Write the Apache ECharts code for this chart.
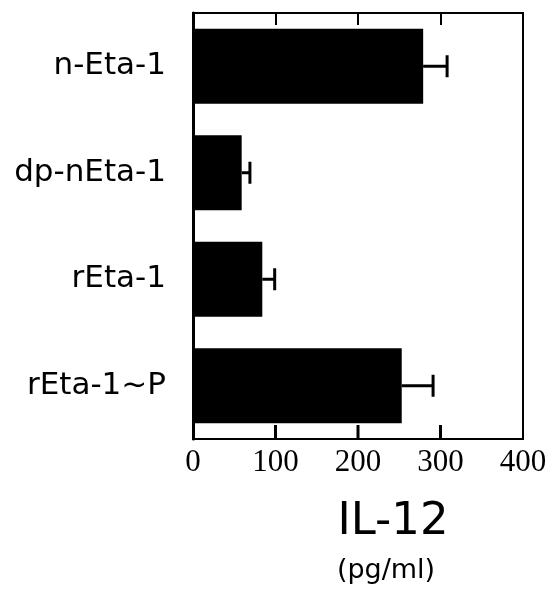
<!DOCTYPE html>
<html>
<head>
<meta charset="utf-8">
<script src="https://cdn.jsdelivr.net/npm/echarts@6/dist/echarts.min.js"></script>
<style>html,body{margin:0;padding:0;background:#fff;}#c{width:551px;height:589px;}</style>
</head>
<body>
<div id="c"></div>
<script>
const categories = ['n-Eta-1', 'dp-nEta-1', 'rEta-1', 'rEta-1~P'];
const values = [279, 59, 84, 253];
const errors = [29, 10, 15, 38];
const xTicks = [0, 100, 200, 300, 400];

const chart = echarts.init(document.getElementById('c'));
const errData = categories.map((c, i) => [values[i], values[i] + errors[i], i]);
const innerTicks = xTicks.slice(1, -1).map(v => [v, categories.length - 1]);

chart.setOption({
  animation: false,
  backgroundColor: '#fff',
  grid: { left: 193, right: 28, top: 13, bottom: 150, show: true, borderColor: '#000', borderWidth: 2, backgroundColor: 'transparent' },
  title: [
    { text: 'IL-12', left: 388, top: 495, textAlign: 'center',
      textStyle: { fontFamily: 'DejaVu Sans', fontSize: 45, fontWeight: 'normal', color: '#000' } },
    { text: '(pg/ml)', left: 381, top: 552, textAlign: 'center',
      textStyle: { fontFamily: 'DejaVu Sans', fontSize: 27, fontWeight: 'normal', color: '#000' } }
  ],
  xAxis: [{
    type: 'value', position: 'bottom', min: xTicks[0], max: xTicks[xTicks.length - 1], interval: 100,
    axisLine: { show: true, onZero: false, lineStyle: { color: '#000', width: 2 } },
    axisTick: { show: true, inside: true, length: 12, lineStyle: { color: '#000', width: 2 } },
    axisLabel: { margin: 8, fontFamily: 'Liberation Serif', fontSize: 31, color: '#000' },
    splitLine: { show: false }
  }, {
    type: 'value', position: 'top', min: xTicks[0], max: xTicks[xTicks.length - 1], interval: 100,
    axisLine: { show: true, onZero: false, lineStyle: { color: '#000', width: 2 } },
    axisTick: { show: true, inside: true, length: 12, lineStyle: { color: '#000', width: 2 } },
    axisLabel: { show: false },
    splitLine: { show: false }
  }],
  yAxis: {
    type: 'category', data: categories, inverse: true,
    axisLine: { show: true, onZero: false, lineStyle: { color: '#000', width: 3 } },
    axisTick: { show: false },
    axisLabel: { margin: 27, fontFamily: 'DejaVu Sans', fontSize: 31, color: '#000' }
  },
  series: [{
    type: 'bar', data: values, barWidth: 75, xAxisIndex: 0,
    itemStyle: { color: '#000' }
  }, {
    type: 'custom', data: errData, xAxisIndex: 0,
    renderItem: function (params, api) {
      const y = api.value(2);
      const p0 = api.coord([api.value(0), y]);
      const p1 = api.coord([api.value(1), y]);
      const h = 11;
      return {
        type: 'group',
        children: [
          { type: 'line', shape: { x1: p0[0], y1: p0[1], x2: p1[0], y2: p1[1] }, style: { stroke: '#000', lineWidth: 3 } },
          { type: 'line', shape: { x1: p1[0], y1: p1[1] - h, x2: p1[0], y2: p1[1] + h }, style: { stroke: '#000', lineWidth: 3 } }
        ]
      };
    },
    encode: { x: [0, 1], y: 2 },
    z: 3
  }, {
    type: 'custom', data: innerTicks, xAxisIndex: 0,
    clip: false,
    renderItem: function (params, api) {
      const p = api.coord([api.value(0), api.value(1)]);
      const yb = p[1] + api.size([0, 1])[1] / 2;
      return { type: 'rect', shape: { x: p[0] - 1.5, y: yb - 14, width: 3, height: 14 }, style: { fill: '#000' } };
    },
    encode: { x: 0, y: 1 },
    silent: true,
    z: 10
  }]
});
</script>
</body>
</html>
